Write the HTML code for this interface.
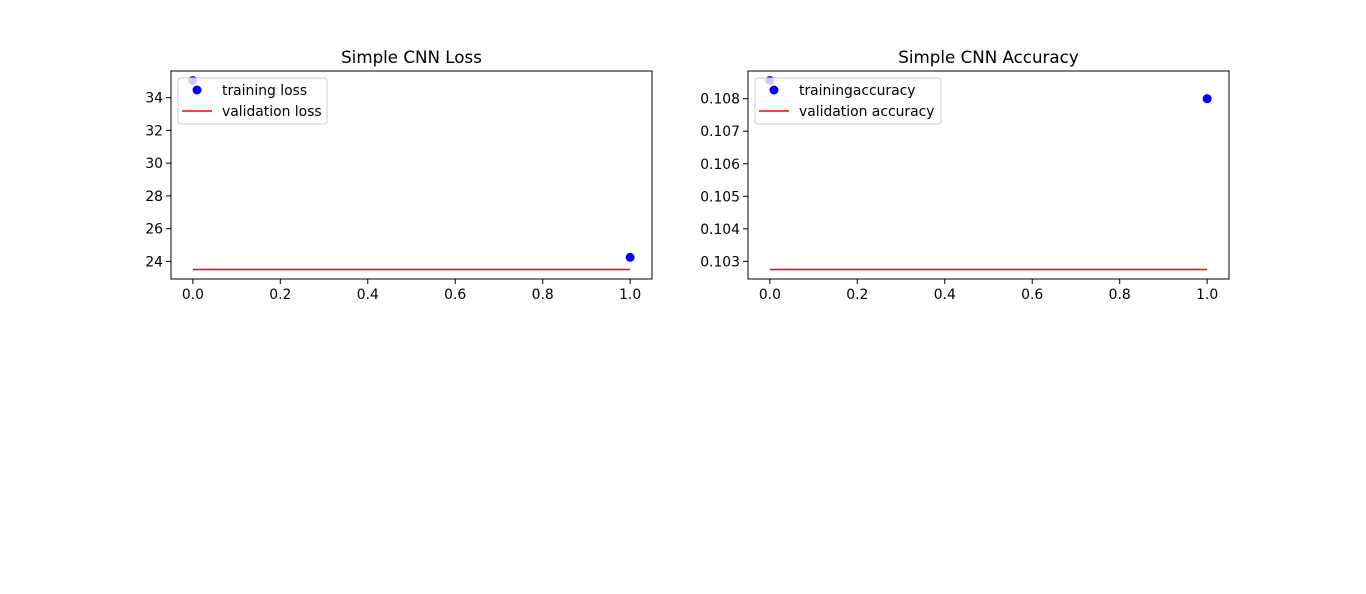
<!DOCTYPE html>
<html><head><meta charset="utf-8"><style>
body{margin:0;background:#fff;}
svg{display:block;font-family:"DejaVu Sans","Liberation Sans",sans-serif;}
</style></head><body>
<svg id="c" width="1366" height="594"></svg>
<script>
const epochs=[0,1];
const lossTrain=[35.05,24.25];
const lossVal=[23.5,23.5];
const accTrain=[0.10856,0.108];
const accVal=[0.10275,0.10275];
const xTicks=[0,0.2,0.4,0.6,0.8,1.0];
const lossTicks=[24,26,28,30,32,34];
const accTicks=[0.103,0.104,0.105,0.106,0.107,0.108];
const svg=document.getElementById('c');
const NS='http://www.w3.org/2000/svg';
function mk(t,a,p){const e=document.createElementNS(NS,t);for(const k in a)e.setAttribute(k,a[k]);(p||svg).appendChild(e);return e;}
function panel(name,x0,title,tr,va,yt,fmt,lab1,lab2){
  const y0=71,w=481,h=208;
  const g=mk('g',{});
  
  
  const all=tr.concat(va);let mn=Math.min(...all),mx=Math.max(...all);const m=(mx-mn)*0.05;mn-=m;mx+=m;
  const sx=v=>x0+(v+0.05)/1.1*w;
  const sy=v=>y0+h-(v-mn)/(mx-mn)*h;
  const t=mk('text',{x:x0+w/2,y:63,'text-anchor':'middle','font-size':16.7},g);t.textContent=title;
  
  xTicks.forEach(v=>{const X=sx(v);mk('line',{x1:X,x2:X,y1:y0+h,y2:y0+h+5,stroke:'#000'},g);
    const l=mk('text',{x:X,y:y0+h+20,'text-anchor':'middle','font-size':13.9},g);l.textContent=v.toFixed(1);
    });
  yt.forEach(v=>{const Y=sy(v);mk('line',{x1:x0-5,x2:x0,y1:Y,y2:Y,stroke:'#000'},g);
    const l=mk('text',{x:x0-8,y:Y+5,'text-anchor':'end','font-size':13.9},g);l.textContent=fmt(v);
    });
  const ln=mk('polyline',{points:epochs.map((e,i)=>sx(e)+','+sy(va[i])).join(' '),fill:'none',stroke:'#f00','stroke-width':1.5},g);
  
  epochs.forEach((e,i)=>{const c=mk('circle',{cx:sx(e),cy:sy(tr[i]),r:4.5,fill:'#00f'},g);
    });
  mk('rect',{x:x0,y:y0,width:w,height:h,fill:'none',stroke:'#000','stroke-width':1},g);
  const lg=mk('g',{},g);
  
  const lw=name==='loss-panel'?149:186;
  mk('rect',{x:x0+7,y:78,width:lw,height:46,rx:3,fill:'#fff','fill-opacity':0.8,stroke:'#ccc'},lg);
  mk('circle',{cx:x0+26,cy:90,r:4.5,fill:'#00f'},lg);
  mk('line',{x1:x0+11,x2:x0+41,y1:111,y2:111,stroke:'#f00','stroke-width':1.5},lg);
  const a=mk('text',{x:x0+51,y:95,'font-size':13.9},lg);a.textContent=lab1;
  const b=mk('text',{x:x0+51,y:116,'font-size':13.9},lg);b.textContent=lab2;
}
panel('loss-panel',171,'Simple CNN Loss',lossTrain,lossVal,lossTicks,v=>String(v),'training loss','validation loss');
panel('accuracy-panel',748,'Simple CNN Accuracy',accTrain,accVal,accTicks,v=>v.toFixed(3),'trainingaccuracy','validation accuracy');
</script>
</body></html>
